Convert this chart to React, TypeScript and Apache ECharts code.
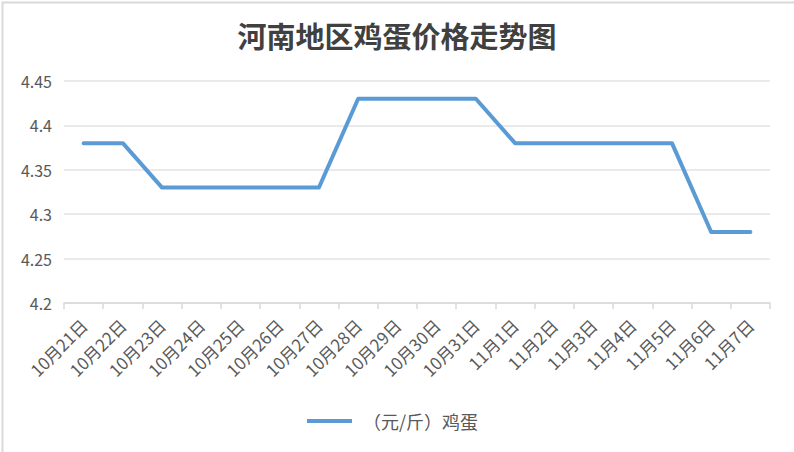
import React, { useEffect, useRef } from "react";
import * as echarts from "echarts";

const title = "河南地区鸡蛋价格走势图";
const categories = [
  "10月21日", "10月22日", "10月23日", "10月24日", "10月25日", "10月26日",
  "10月27日", "10月28日", "10月29日", "10月30日", "10月31日", "11月1日",
  "11月2日", "11月3日", "11月4日", "11月5日", "11月6日", "11月7日",
];
const seriesName = "（元/斤）鸡蛋";
const eggPrices = [
  4.38, 4.38, 4.33, 4.33, 4.33, 4.33, 4.33, 4.43, 4.43, 4.43, 4.43, 4.38,
  4.38, 4.38, 4.38, 4.38, 4.28, 4.28,
];
const yMin = 4.2;
const yMax = 4.45;
const yStep = 0.05;

export default function App() {
  const ref = useRef<HTMLDivElement>(null);
  useEffect(() => {
    if (!ref.current) return;
    const chart = echarts.init(ref.current, null, { renderer: "svg" });
    chart.setOption({
      animation: false,
      backgroundColor: "#ffffff",
      title: {
        text: title,
        left: "center",
        top: 15,
        textStyle: {
          fontFamily: "Noto Sans CJK SC",
          fontSize: 29,
          fontWeight: "bold",
          color: "#404040",
        },
      },
      graphic: [
        {
          type: "rect",
          left: 0,
          top: 0,
          shape: { width: 793, height: 451 },
          style: { fill: "none", stroke: "#d9d9d9", lineWidth: 2 },
          silent: true,
        },
      ],
      grid: { left: 64, right: 24, top: 81, bottom: 149 },
      legend: {
        bottom: 17,
        left: 302,
        itemWidth: 45,
        itemHeight: 10,
        itemGap: 10,
        data: [{ name: seriesName, icon: "path://M0,0 L45,0 L45,4 L0,4 Z" }],
        textStyle: {
          fontFamily: "Noto Sans CJK SC",
          fontSize: 18,
          color: "#595959",
          padding: [0, 0, 0, 6],
        },
      },
      xAxis: {
        type: "category",
        data: categories,
        boundaryGap: true,
        axisLine: { lineStyle: { color: "#d9d9d9", width: 1.5 } },
        axisTick: { show: true, length: 6, lineStyle: { color: "#d9d9d9", width: 1.5 } },
        axisLabel: {
          interval: 0,
          rotate: 45,
          margin: 19,
          fontFamily: "Noto Sans CJK SC",
          fontSize: 17,
          color: "#595959",
        },
      },
      yAxis: {
        type: "value",
        min: yMin,
        max: yMax,
        interval: yStep,
        axisLine: { show: false },
        axisTick: { show: false },
        axisLabel: {
          margin: 12,
          fontFamily: "Noto Sans CJK SC",
          fontSize: 16,
          color: "#595959",
          formatter: (v: number) => String(Math.round(v * 100) / 100),
        },
        splitLine: { lineStyle: { color: "#e3e3e3", width: 1.5 } },
      },
      series: [
        {
          name: seriesName,
          type: "line",
          data: eggPrices,
          showSymbol: false,
          symbol: "none",
          lineStyle: { color: "#5b9bd5", width: 4, cap: "round", join: "round" },
          itemStyle: { color: "#5b9bd5" },
        },
      ],
    });
    return () => chart.dispose();
  }, []);
  return (
    <div
      ref={ref}
      style={{ position: "absolute", left: 0, top: 0, width: 794, height: 452 }}
    />
  );
}
